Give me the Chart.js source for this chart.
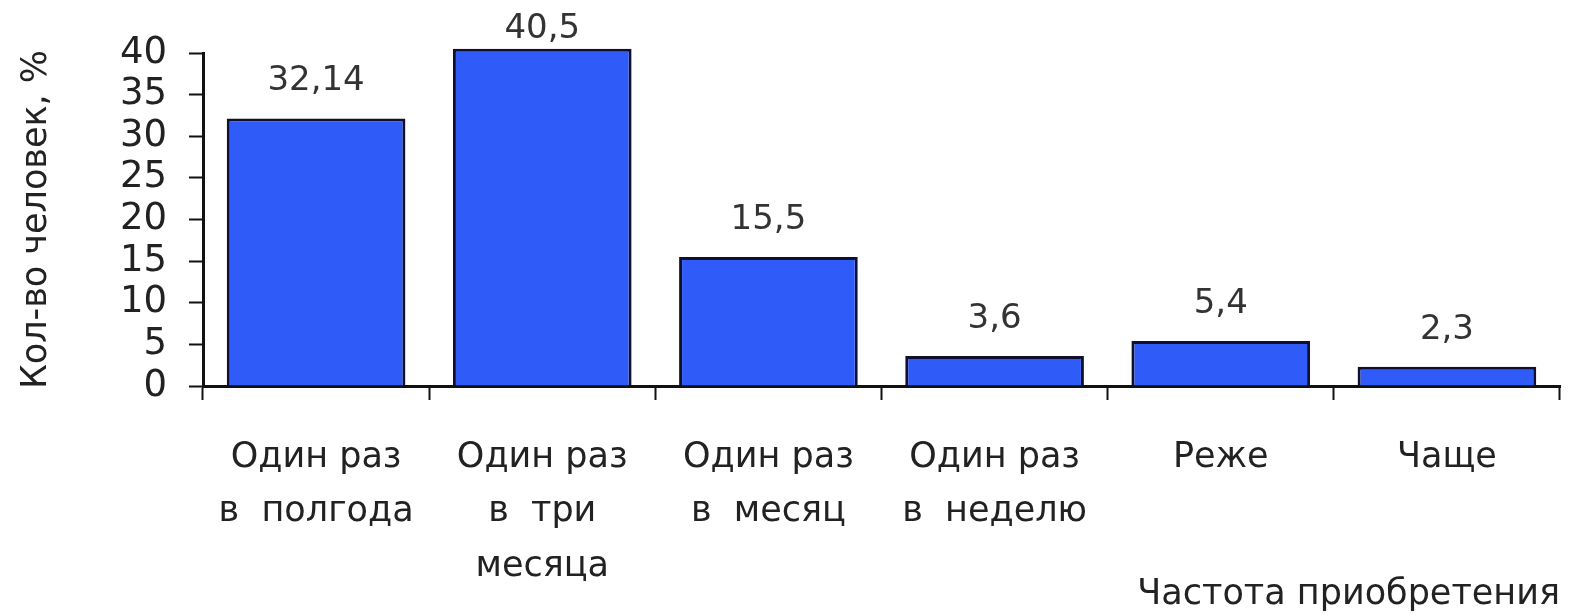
<!DOCTYPE html>
<html>
<head>
<meta charset="utf-8">
<script src="https://cdn.jsdelivr.net/npm/chart.js@4"></script>
<style>
  html, body { margin: 0; padding: 0; background: #fff; }
  #wrap { width: 1577px; height: 616px; }
</style>
</head>
<body>
<div id="wrap"><canvas id="chart"></canvas></div>
<script>
// data
const categories = [
    ['Один раз', 'в  полгода'],
    ['Один раз', 'в  три', 'месяца'],
    ['Один раз', 'в  месяц'],
    ['Один раз', 'в  неделю'],
    ['Реже'],
    ['Чаще']
];
const shares = [32.14, 40.5, 15.5, 3.6, 5.4, 2.3];
const yTicks = [0, 5, 10, 15, 20, 25, 30, 35, 40];

const fontFamily = '"DejaVu Sans", Verdana, sans-serif';

// labels above bars, comma as decimal mark
const valueLabels = {
    id: 'valueLabels',
    afterDatasetsDraw(chart) {
        const ctx = chart.ctx;
        const meta = chart.getDatasetMeta(0);
        ctx.save();
        ctx.font = '34px ' + fontFamily;
        ctx.fillStyle = '#333';
        ctx.textAlign = 'center';
        ctx.textBaseline = 'bottom';
        meta.data.forEach((bar, i) => {
            const text = String(shares[i]).replace('.', ',');
            // keep the tallest label inside the canvas
            ctx.fillText(text, bar.x, Math.max(bar.y - 20, 46));
        });
        ctx.restore();
    }
};

new Chart(document.getElementById('chart'), {
    type: 'bar',
    data: {
        labels: categories,
        datasets: [{
            data: shares,
            backgroundColor: '#2f5cf8',
            borderColor: '#10102e',
            borderWidth: 3,
            borderSkipped: 'bottom',
            barPercentage: 0.79,
            categoryPercentage: 1,
            clip: false
        }]
    },
    options: {
        responsive: true,
        maintainAspectRatio: false,
        animation: false,
        layout: { padding: { top: 53, right: 17, left: 0, bottom: 0 } },
        plugins: {
            legend: { display: false },
            tooltip: { enabled: false }
        },
        scales: {
            x: {
                grid: {
                    offset: true,
                    drawOnChartArea: false,
                    drawTicks: true,
                    tickLength: 14,
                    tickWidth: 2,
                    color: '#111'
                },
                border: { color: '#111', width: 3 },
                ticks: {
                    color: '#222',
                    padding: 31,
                    maxRotation: 0,
                    autoSkip: false,
                    font: { family: fontFamily, size: 35, lineHeight: 1.55 }
                },
                title: {
                    display: true,
                    text: 'Частота приобретения',
                    align: 'end',
                    color: '#222',
                    font: { family: fontFamily, size: 35 },
                    padding: { top: 0, bottom: 0 }
                },
                afterFit(scale) { scale.height = 230; }
            },
            y: {
                min: 0,
                max: 40,
                afterBuildTicks(scale) {
                    scale.ticks = yTicks.map(v => ({ value: v }));
                },
                grid: {
                    drawOnChartArea: false,
                    tickLength: 14,
                    tickWidth: 2,
                    color: '#111'
                },
                border: { color: '#111', width: 3 },
                ticks: {
                    color: '#222',
                    padding: 22,
                    autoSkip: false,
                    font: { family: fontFamily, size: 37 }
                },
                title: {
                    display: true,
                    text: 'Кол-во человек, %',
                    color: '#222',
                    font: { family: fontFamily, size: 35 },
                    padding: { top: 16, bottom: 10 }
                },
                afterFit(scale) { scale.width = 203; }
            }
        }
    },
    plugins: [valueLabels]
});
</script>
</body>
</html>
